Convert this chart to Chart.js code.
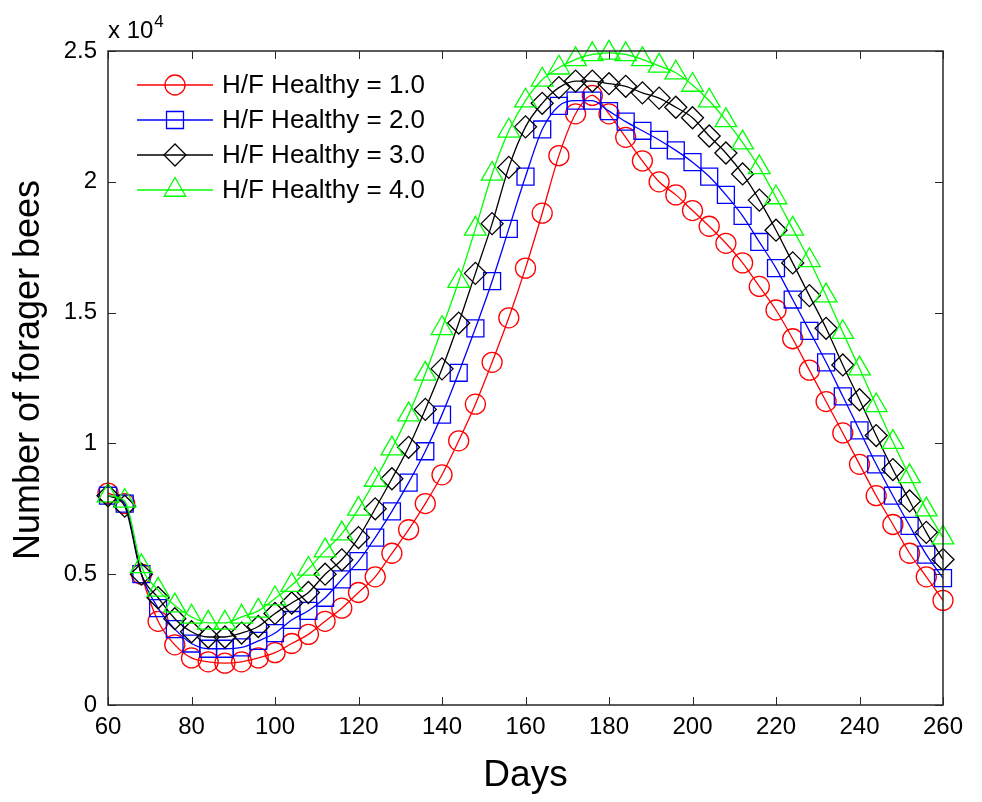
<!DOCTYPE html>
<html>
<head>
<meta charset="utf-8">
<script src="https://cdn.jsdelivr.net/npm/chart.js@4"></script>
<style>
  html, body { margin: 0; padding: 0; background: #fff; }
  #chart { display: block; }
</style>
</head>
<body>
<canvas id="chart" width="982" height="802"></canvas>
<script>
// days sampled every 4 days (one marker per sample)
const days = [60, 64, 68, 72, 76, 80, 84, 88, 92, 96, 100, 104, 108, 112, 116, 120, 124, 128, 132, 136,
  140, 144, 148, 152, 156, 160, 164, 168, 172, 176, 180, 184, 188, 192, 196, 200, 204, 208, 212, 216,
  220, 224, 228, 232, 236, 240, 244, 248, 252, 256, 260]

// number of forager bees
const healthy1 = [8100, 7700, 5000, 3200, 2300, 1800, 1650, 1600, 1650, 1800, 2000, 2350, 2700, 3200, 3700, 4300, 4900, 5800, 6700, 7700,
  8800, 10100, 11500, 13100, 14800, 16700, 18800, 21000, 22600, 23300, 22600, 21700, 20800, 20000, 19500, 18900, 18300, 17650, 16900, 16000,
  15100, 14000, 12800, 11600, 10400, 9200, 8000, 6900, 5800, 4900, 4000]
const healthy2 = [8000, 7700, 5000, 3700, 2900, 2350, 2150, 2150, 2200, 2450, 2750, 3250, 3600, 4100, 4800, 5500, 6400, 7400, 8500, 9700,
  11100, 12700, 14400, 16200, 18200, 20200, 22000, 22900, 23100, 23100, 22700, 22300, 21950, 21600, 21200, 20750, 20200, 19500, 18700, 17700,
  16700, 15500, 14300, 13100, 11800, 10500, 9200, 8000, 6850, 5750, 4850]
const healthy3 = [8000, 7600, 5000, 4100, 3300, 2800, 2600, 2600, 2750, 3000, 3500, 3900, 4300, 5000, 5550, 6400, 7500, 8650, 9850, 11300,
  12850, 14600, 16500, 18400, 20550, 22100, 23000, 23600, 23850, 23850, 23750, 23650, 23400, 23200, 22850, 22450, 21750, 21100, 20300, 19300,
  18150, 16900, 15650, 14400, 13000, 11670, 10300, 9000, 7800, 6600, 5560]
const healthy4 = [8000, 7800, 5300, 4400, 3800, 3370, 3140, 3140, 3370, 3600, 4070, 4580, 5200, 5900, 6550, 7500, 8600, 9800, 11100, 12660,
  14400, 16200, 18200, 20300, 21950, 23100, 23900, 24360, 24680, 24870, 24930, 24870, 24680, 24430, 24170, 23700, 23100, 22350, 21500, 20550,
  19400, 18200, 17000, 15650, 14250, 12860, 11450, 10050, 8740, 7470, 6400]

const seriesNames = ['H/F Healthy = 1.0', 'H/F Healthy = 2.0', 'H/F Healthy = 3.0', 'H/F Healthy = 4.0']
const xTicks = [60, 80, 100, 120, 140, 160, 180, 200, 220, 240, 260]
const yTicks = [0, 5000, 10000, 15000, 20000, 25000]

const FONT = '"Liberation Sans", Arial, Helvetica, sans-serif'
const AXIS_COLOR = '#262626'

const STYLES = [
  { color: '#ff0000', pointStyle: 'circle',   radius: 10 },
  { color: '#0000ff', pointStyle: 'rect',     radius: 12 },
  { color: '#000000', pointStyle: 'rectRot',  radius: 11 },
  { color: '#00ff00', pointStyle: 'triangle', radius: 12.5 }
]

function makeDataset(i, values) {
  const s = STYLES[i]
  return {
    label: seriesNames[i],
    data: days.map((d, k) => ({ x: d, y: values[k] })),
    borderColor: s.color,
    borderWidth: 1.3,
    pointStyle: s.pointStyle,
    pointRadius: s.radius,
    pointBorderWidth: 1.3,
    pointBorderColor: s.color,
    pointBackgroundColor: 'rgba(0,0,0,0)',
    cubicInterpolationMode: 'monotone',
    clip: false,
    order: 3 - i
  }
}

// box with inward ticks on all four sides, matlab style
const boxPlugin = {
  id: 'box',
  afterDatasetsDraw(chart) {
    const { ctx, chartArea: a, scales: { x, y } } = chart
    const len = 8
    ctx.save()
    ctx.strokeStyle = AXIS_COLOR
    ctx.lineWidth = 1.5
    ctx.strokeRect(a.left, a.top, a.right - a.left, a.bottom - a.top)
    ctx.beginPath()
    xTicks.forEach(v => {
      const px = Math.round(x.getPixelForValue(v)) + 0.5
      ctx.moveTo(px, a.bottom); ctx.lineTo(px, a.bottom - len)
      ctx.moveTo(px, a.top); ctx.lineTo(px, a.top + len)
    })
    yTicks.forEach(v => {
      const py = Math.round(y.getPixelForValue(v)) + 0.5
      ctx.moveTo(a.left, py); ctx.lineTo(a.left + len, py)
      ctx.moveTo(a.right, py); ctx.lineTo(a.right - len, py)
    })
    ctx.lineWidth = 1
    ctx.stroke()
    ctx.restore()
  },
  afterDraw(chart) {
    const { ctx, chartArea: a } = chart
    ctx.save()
    // exponent label
    ctx.fillStyle = '#000'
    ctx.textBaseline = 'alphabetic'
    ctx.textAlign = 'left'
    ctx.font = '24px ' + FONT
    ctx.fillText('x 10', a.left, 38)
    const w = ctx.measureText('x 10').width
    ctx.font = '17px ' + FONT
    ctx.fillText('4', a.left + w + 1, 27)

    // y axis title, a bit above the plot centre like the original
    ctx.save()
    ctx.translate(29, 370)
    ctx.rotate(-Math.PI / 2)
    ctx.textAlign = 'center'
    ctx.textBaseline = 'middle'
    ctx.font = '36px ' + FONT
    ctx.fillText('Number of forager bees', 0, 0)
    ctx.restore()

    // legend: line with marker in the middle
    const rows = [85, 120, 155, 190]
    chart.data.datasets.forEach((ds, i) => {
      const yy = rows[i]
      ctx.strokeStyle = ds.borderColor
      ctx.lineWidth = 1.3
      ctx.beginPath()
      ctx.moveTo(137, yy); ctx.lineTo(213, yy)
      ctx.stroke()
      ctx.fillStyle = 'rgba(0,0,0,0)'
      Chart.helpers.drawPoint(ctx, {
        pointStyle: ds.pointStyle, radius: ds.pointRadius, rotation: 0, borderWidth: 1.3
      }, 175, yy)
      ctx.fillStyle = '#000'
      ctx.font = '26px ' + FONT
      ctx.textAlign = 'left'
      ctx.textBaseline = 'middle'
      ctx.fillText(ds.label, 222, yy + 1)
    })
    ctx.restore()
  }
}

new Chart(document.getElementById('chart'), {
  type: 'line',
  data: {
    datasets: [healthy1, healthy2, healthy3, healthy4].map((v, i) => makeDataset(i, v))
  },
  options: {
    responsive: false,
    animation: false,
    events: [],
    layout: { padding: { top: 51, right: 39, left: 0, bottom: 0 } },
    plugins: { legend: { display: false }, tooltip: { enabled: false } },
    scales: {
      x: {
        type: 'linear',
        min: 60,
        max: 260,
        afterBuildTicks: s => { s.ticks = xTicks.map(v => ({ value: v })) },
        afterFit: s => { s.height = 97 },
        grid: { display: false, drawTicks: false },
        border: { display: false },
        ticks: { padding: 8, color: '#000', font: { family: FONT, size: 24 }, maxRotation: 0 },
        title: { display: true, text: 'Days', color: '#000', font: { family: FONT, size: 37 }, padding: { top: 0, bottom: 4 } }
      },
      y: {
        min: 0,
        max: 25000,
        afterBuildTicks: s => { s.ticks = yTicks.map(v => ({ value: v })) },
        afterFit: s => { s.width = 108 },
        grid: { display: false, drawTicks: false },
        border: { display: false },
        ticks: { padding: 11, color: '#000', font: { family: FONT, size: 24 }, callback: v => String(v / 10000) },
        title: { display: false }
      }
    }
  },
  plugins: [boxPlugin]
})
</script>
</body>
</html>
